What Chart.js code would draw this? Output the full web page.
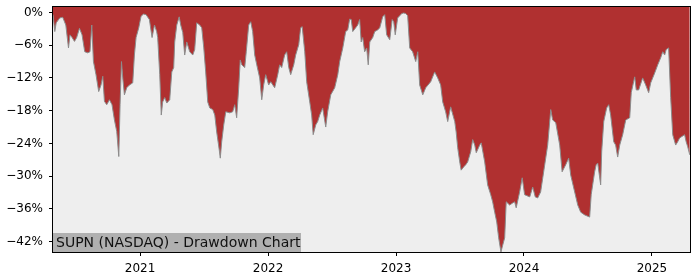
<!DOCTYPE html>
<html>
<head>
<meta charset="utf-8">
<script src="https://cdn.jsdelivr.net/npm/chart.js@4.4.1/dist/chart.umd.min.js"></script>
<style>body{margin:0;background:#fff}</style>
</head>
<body>
<canvas id="chart__drawdown" width="700" height="280"></canvas>
<script>
// decimal years
const dates = [
  2020.320, 2020.334, 2020.345, 2020.373, 2020.396, 2020.420, 2020.441, 2020.453, 2020.469, 2020.488,
  2020.505, 2020.527, 2020.547, 2020.568, 2020.591, 2020.609, 2020.623, 2020.636, 2020.656, 2020.677,
  2020.695, 2020.709, 2020.722, 2020.740, 2020.761, 2020.781, 2020.800, 2020.818, 2020.834, 2020.844,
  2020.855, 2020.865, 2020.878, 2020.896, 2020.917, 2020.943, 2020.956, 2020.969, 2020.990, 2021.008,
  2021.027, 2021.047, 2021.073, 2021.094, 2021.113, 2021.130, 2021.138, 2021.154, 2021.166, 2021.177,
  2021.193, 2021.209, 2021.232, 2021.248, 2021.263, 2021.271, 2021.287, 2021.306, 2021.318, 2021.334,
  2021.349, 2021.365, 2021.388, 2021.412, 2021.427, 2021.443, 2021.466, 2021.482, 2021.498, 2021.513,
  2021.529, 2021.545, 2021.568, 2021.584, 2021.599, 2021.619, 2021.627, 2021.638, 2021.654, 2021.670,
  2021.701, 2021.724, 2021.740, 2021.755, 2021.771, 2021.783, 2021.795, 2021.818, 2021.830, 2021.849,
  2021.865, 2021.880, 2021.896, 2021.912, 2021.935, 2021.951, 2021.966, 2021.982, 2022.005, 2022.021,
  2022.052, 2022.076, 2022.091, 2022.107, 2022.130, 2022.146, 2022.162, 2022.177, 2022.201, 2022.216,
  2022.240, 2022.255, 2022.267, 2022.287, 2022.302, 2022.326, 2022.341, 2022.353, 2022.373, 2022.388,
  2022.404, 2022.427, 2022.451, 2022.466, 2022.490, 2022.521, 2022.545, 2022.560, 2022.584, 2022.607,
  2022.623, 2022.638, 2022.650, 2022.662, 2022.685, 2022.701, 2022.716, 2022.728, 2022.740, 2022.755,
  2022.771, 2022.783, 2022.795, 2022.818, 2022.834, 2022.857, 2022.873, 2022.896, 2022.912, 2022.927,
  2022.951, 2022.970, 2022.982, 2022.994, 2023.013, 2023.045, 2023.060, 2023.076, 2023.091, 2023.107,
  2023.130, 2023.154, 2023.170, 2023.185, 2023.209, 2023.232, 2023.271, 2023.302, 2023.326, 2023.349,
  2023.365, 2023.388, 2023.404, 2023.427, 2023.459, 2023.470, 2023.482, 2023.498, 2023.509, 2023.529,
  2023.545, 2023.560, 2023.584, 2023.599, 2023.615, 2023.627, 2023.654, 2023.666, 2023.693, 2023.716,
  2023.740, 2023.755, 2023.771, 2023.787, 2023.802, 2023.820, 2023.834, 2023.849, 2023.861, 2023.888,
  2023.912, 2023.927, 2023.939, 2023.966, 2023.986, 2024.005, 2024.045, 2024.068, 2024.088, 2024.107,
  2024.130, 2024.162, 2024.185, 2024.209, 2024.224, 2024.248, 2024.279, 2024.298, 2024.326, 2024.349,
  2024.365, 2024.396, 2024.420, 2024.443, 2024.474, 2024.513, 2024.525, 2024.552, 2024.564, 2024.576,
  2024.599, 2024.607, 2024.623, 2024.646, 2024.662, 2024.677, 2024.701, 2024.716, 2024.732, 2024.748,
  2024.771, 2024.795, 2024.826, 2024.838, 2024.865, 2024.877, 2024.896, 2024.927, 2024.951, 2024.974,
  2024.990, 2025.021, 2025.045, 2025.068, 2025.084, 2025.099, 2025.111, 2025.130, 2025.146, 2025.162,
  2025.185, 2025.201, 2025.216, 2025.255, 2025.267, 2025.279, 2025.295
];

// drawdown from running high, in percent
const drawdown = [
  -0.4, -3.5, -1.9, -1.0, -0.9, -2.3, -6.5, -4.1, -4.6, -5.3,
  -4.6, -2.9, -4.1, -7.2, -7.4, -7.2, -2.3, -9.0, -11.4, -14.5,
  -13.3, -11.7, -16.3, -16.9, -16.0, -16.9, -19.7, -21.8, -26.4, -16.9,
  -9.0, -12.0, -15.1, -13.8, -13.3, -12.9, -7.8, -4.6, -2.8, -0.7,
  -0.3, -0.4, -1.3, -4.6, -2.3, -3.5, -4.6, -11.4, -18.8, -16.4,
  -15.6, -16.6, -16.0, -10.9, -10.1, -5.4, -2.3, -0.8, -2.3, -3.7,
  -7.8, -5.4, -7.2, -7.8, -6.8, -1.9, -2.3, -2.8, -6.5, -10.9,
  -16.4, -17.5, -17.8, -18.8, -21.9, -25.2, -26.7, -23.7, -20.6, -18.2,
  -18.4, -18.2, -16.9, -19.3, -13.8, -8.7, -9.6, -10.1, -7.2, -2.3,
  -1.7, -3.5, -7.8, -9.6, -12.0, -16.0, -13.3, -11.4, -13.3, -12.7,
  -13.8, -11.4, -9.6, -10.1, -7.8, -7.2, -10.1, -11.4, -9.6, -7.8,
  -5.9, -2.8, -2.6, -7.2, -12.7, -16.4, -18.8, -22.4, -20.6, -20.0,
  -18.8, -17.5, -21.0, -18.2, -15.1, -13.8, -11.4, -9.0, -6.5, -3.5,
  -3.2, -1.2, -1.3, -3.5, -2.8, -2.3, -1.3, -5.4, -4.6, -7.2,
  -6.5, -9.6, -5.4, -4.6, -3.5, -3.2, -2.8, -0.8, -0.4, -4.1,
  -5.0, -1.3, -1.7, -4.1, -1.0, -0.2, -0.1, -0.2, -0.6, -6.5,
  -7.2, -9.0, -7.2, -13.3, -15.1, -13.8, -12.7, -10.9, -12.0, -13.3,
  -16.4, -18.2, -20.0, -17.3, -20.0, -21.9, -24.8, -27.4, -28.9, -28.3,
  -27.9, -27.4, -25.5, -23.3, -24.3, -25.7, -24.3, -23.9, -27.4, -31.6,
  -33.4, -34.7, -36.6, -38.4, -41.3, -43.9, -42.6, -41.3, -34.7, -35.3,
  -34.9, -34.7, -35.8, -32.9, -30.3, -33.4, -33.8, -32.0, -33.8, -34.0,
  -32.9, -27.9, -24.3, -17.8, -19.7, -20.2, -24.3, -29.2, -27.9, -26.7,
  -29.8, -32.9, -35.3, -36.6, -37.1, -37.5, -33.4, -29.2, -27.9, -27.6,
  -31.6, -25.5, -20.0, -17.5, -16.9, -18.8, -23.7, -24.3, -26.5, -24.3,
  -22.4, -19.7, -19.3, -14.7, -11.8, -14.2, -14.2, -12.0, -13.3, -14.7,
  -12.9, -11.1, -9.6, -8.3, -7.2, -7.8, -6.8, -6.5, -15.6, -22.4,
  -24.3, -23.7, -23.0, -22.4, -23.7, -24.6, -26.1
];

const yearTicks = [2021, 2022, 2023, 2024, 2025];
const pctTicks = [0, -6, -12, -18, -24, -30, -36, -42];
const chartLabel = 'SUPN (NASDAQ) - Drawdown Chart';

const frame = {
  id: 'frame',
  beforeDatasetsDraw(chart) {
    const { ctx, chartArea: a } = chart;
    ctx.save();
    ctx.fillStyle = '#eeeeee';
    ctx.fillRect(a.left, a.top, a.right - a.left, a.bottom - a.top);
    ctx.restore();
  },
  afterDraw(chart) {
    const { ctx, chartArea: a } = chart;
    ctx.save();
    // ticker label box, bottom left
    ctx.fillStyle = '#b0b0b0';
    ctx.fillRect(a.left, a.bottom - 19, 248, 19);
    ctx.fillStyle = '#111';
    ctx.font = '14px "DejaVu Sans"';
    ctx.textBaseline = 'middle';
    ctx.fillText(chartLabel, a.left + 3, a.bottom - 9);
    // spines
    ctx.strokeStyle = '#000';
    ctx.lineWidth = 1;
    ctx.strokeRect(a.left - 0.5, a.top - 0.5, a.right - a.left + 1, a.bottom - a.top + 1);
    ctx.restore();
  }
};

new Chart(document.getElementById('chart__drawdown'), {
  type: 'line',
  data: {
    datasets: [{
      data: dates.map((d, i) => ({ x: d, y: drawdown[i] })),
      borderColor: '#8c8c8c',
      borderWidth: 1,
      backgroundColor: 'rgb(176, 48, 48)',
      fill: 'end',
      pointRadius: 0,
      tension: 0
    }]
  },
  options: {
    responsive: false,
    animation: false,
    layout: { padding: { top: 7, right: 10, left: 0, bottom: 0 } },
    plugins: { legend: { display: false }, tooltip: { enabled: false } },
    scales: {
      x: {
        type: 'linear',
        min: 2020.32,
        max: 2025.297,
        afterFit: s => { s.height = 28; s.paddingLeft = 0; s.paddingRight = 0; },
        afterBuildTicks: s => { s.ticks = yearTicks.map(v => ({ value: v })); },
        ticks: {
          callback: v => String(v),
          color: '#000',
          font: { family: 'DejaVu Sans', size: 12 },
          padding: 6,
          maxRotation: 0
        },
        grid: { drawOnChartArea: false, tickLength: 4, tickColor: '#000' },
        border: { display: false }
      },
      y: {
        min: -43.9,
        max: 1.0,
        afterFit: s => { s.width = 53; s.paddingTop = 0; s.paddingBottom = 0; },
        afterBuildTicks: s => { s.ticks = pctTicks.map(v => ({ value: v })); },
        ticks: {
          callback: v => (v === 0 ? '0%' : '\u2212' + Math.abs(v) + '%'),
          color: '#000',
          font: { family: 'DejaVu Sans', size: 12 },
          padding: 6
        },
        grid: { drawOnChartArea: false, tickLength: 4, tickColor: '#000' },
        border: { display: false }
      }
    }
  },
  plugins: [frame]
});
</script>
</body>
</html>
